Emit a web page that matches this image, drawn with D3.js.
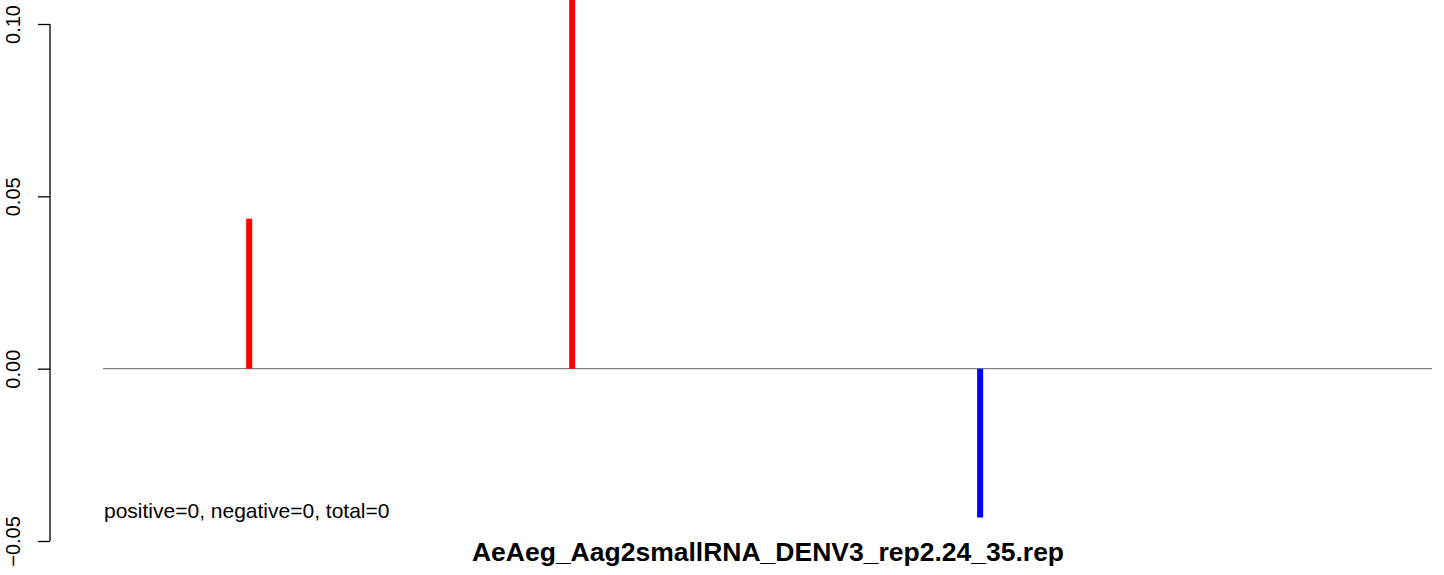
<!DOCTYPE html>
<html><head><meta charset="utf-8">
<script src="https://cdn.jsdelivr.net/npm/d3@7"></script>
<style>body{margin:0;background:#fff}svg{display:block}</style>
</head><body>
<script>
const positions = [11, 35.3, 66];
const values = [0.0435, 0.12, -0.0432];
const yTicks = [-0.05, 0, 0.05, 0.10];
const yTickLabels = ["\u22120.05", "0.00", "0.05", "0.10"];
const title = "AeAeg_Aag2smallRNA_DENV3_rep2.24_35.rep";
const note = "positive=0, negative=0, total=0";

const W = 1444, H = 575;
const svg = d3.select("body").append("svg").attr("width", W).attr("height", H);
const x = d3.scaleLinear().domain([0, 100]).range([103, 1432]);
const y = d3.scaleLinear().domain([-0.05, 0.10]).range([541, 24]);
const FONT = "Liberation Sans, Arial, Helvetica, sans-serif";

// baseline
svg.append("line").attr("x1", x(0)).attr("x2", x(100)).attr("y1", y(0)).attr("y2", y(0))
  .attr("stroke", "#666").attr("stroke-width", 1);

// bars
svg.selectAll("line.bar").data(positions).enter().append("line")
  .attr("class", "bar")
  .attr("x1", d => x(d)).attr("x2", d => x(d))
  .attr("y1", y(0)).attr("y2", (d, i) => y(values[i]))
  .attr("stroke", (d, i) => values[i] >= 0 ? "#ff0000" : "#0000ff")
  .attr("stroke-width", 6);

// y axis
const ax = svg.append("g").attr("transform", "translate(50,0)")
  .call(d3.axisLeft(y).tickValues(yTicks).tickSize(12).tickFormat((d, i) => yTickLabels[i]));
ax.select(".domain").attr("stroke", "#000").attr("stroke-width", 1.3).attr("d", `M0,${y(0.10)}V${y(-0.05)}`);
ax.selectAll(".tick line").attr("stroke", "#000").attr("stroke-width", 1.3);
ax.selectAll(".tick text")
  .attr("font-family", FONT).attr("font-size", 20).attr("fill", "#000")
  .attr("text-anchor", "middle").attr("dy", 0)
  .attr("transform", "translate(-30,0) rotate(-90)").attr("x", 0).attr("y", 0);

svg.append("text").attr("x", 104).attr("y", 518)
  .attr("font-family", FONT).attr("font-size", 21).text(note);

svg.append("text").attr("x", 768).attr("y", 561).attr("text-anchor", "middle")
  .attr("font-family", FONT).attr("font-size", 26.5).attr("font-weight", "bold").text(title);
</script>
</body></html>
